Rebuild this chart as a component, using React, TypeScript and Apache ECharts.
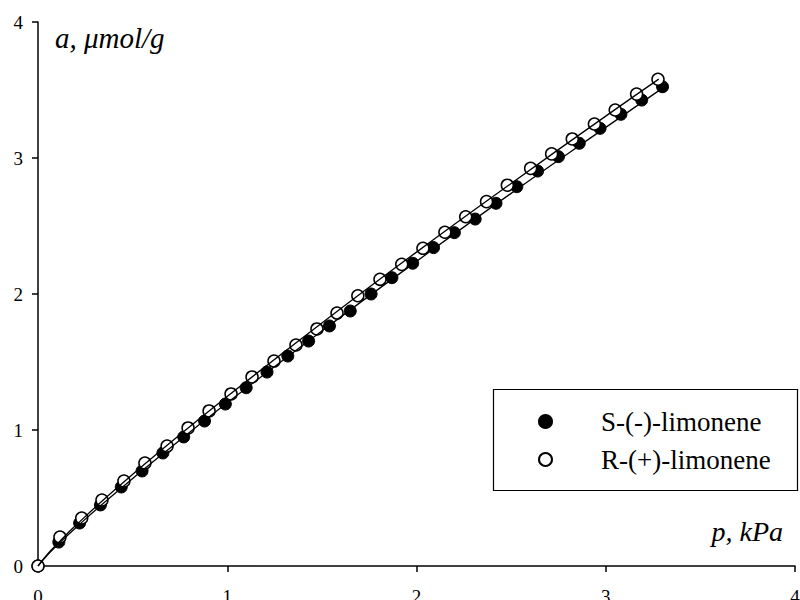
import React, { useEffect, useRef } from "react";
import * as echarts from "echarts";

// S-(-)-limonene (filled)
const sP = [0, 0.11, 0.22, 0.33, 0.44, 0.55, 0.66, 0.77, 0.88, 0.99, 1.1, 1.21, 1.32, 1.43, 1.54, 1.65, 1.76, 1.87, 1.98, 2.09, 2.2, 2.31, 2.42, 2.53, 2.64, 2.75, 2.86, 2.97, 3.08, 3.19, 3.3];
const sA = [0, 0.176, 0.316, 0.449, 0.581, 0.699, 0.831, 0.949, 1.066, 1.191, 1.311, 1.426, 1.544, 1.654, 1.765, 1.875, 2.0, 2.12, 2.226, 2.341, 2.451, 2.551, 2.667, 2.789, 2.904, 3.01, 3.108, 3.218, 3.321, 3.426, 3.524];

// R-(+)-limonene (open)
const rP = [0, 0.116, 0.231, 0.338, 0.454, 0.565, 0.682, 0.793, 0.904, 1.02, 1.131, 1.247, 1.363, 1.474, 1.58, 1.69, 1.807, 1.922, 2.034, 2.15, 2.26, 2.37, 2.48, 2.603, 2.714, 2.823, 2.94, 3.05, 3.163, 3.276];
const rA = [0, 0.213, 0.353, 0.485, 0.625, 0.757, 0.882, 1.015, 1.14, 1.265, 1.39, 1.507, 1.625, 1.743, 1.86, 1.987, 2.108, 2.218, 2.336, 2.454, 2.568, 2.679, 2.8, 2.924, 3.03, 3.14, 3.25, 3.353, 3.47, 3.579];

// fitted curves
const sFitP = [0, 0.05, 0.1, 0.2, 0.4, 0.7, 1.0, 1.5, 2.0, 2.5, 3.0, 3.3];
const sFitA = [0, 0.081, 0.151, 0.282, 0.526, 0.87, 1.2, 1.728, 2.24, 2.74, 3.225, 3.514];
const rFitP = [0, 0.05, 0.1, 0.2, 0.4, 0.7, 1.0, 1.5, 2.0, 2.5, 3.0, 3.28];
const rFitA = [0, 0.087, 0.161, 0.299, 0.553, 0.908, 1.247, 1.787, 2.308, 2.813, 3.308, 3.58];

const seriesNames = ["S-(-)-limonene", "R-(+)-limonene"];
const xTitle = "p, kPa";
const yTitle = "a, \u03bcmol/g";

const zip = (a: number[], b: number[]) => a.map((v, i) => [v, b[i]]);

const FONT = "'Liberation Serif', 'Times New Roman', Times, serif";

export default function App() {
  const ref = useRef<HTMLDivElement>(null);
  useEffect(() => {
    if (!ref.current) return;
    const chart = echarts.init(ref.current, null, { renderer: "svg" });
    const axisCommon = {
      type: "value" as const,
      min: 0,
      max: 4,
      interval: 1,
      splitLine: { show: false },
      axisLine: { show: true, lineStyle: { color: "#000", width: 1.5 } },
      axisTick: { show: true, inside: false, length: 6, lineStyle: { color: "#000", width: 1.5 } },
    };
    chart.setOption({
      animation: false,
      backgroundColor: "#fff",
      grid: { left: 38, right: 5, top: 22, bottom: 34, containLabel: false, outerBoundsMode: "none" },
      xAxis: {
        ...axisCommon,
        axisLabel: { color: "#000", fontFamily: FONT, fontSize: 19, margin: 21 },
      },
      yAxis: {
        ...axisCommon,
        axisLabel: { color: "#000", fontFamily: FONT, fontSize: 19, margin: 15 },
      },
      legend: {
        data: seriesNames,
        orient: "vertical",
        left: 538,
        top: 408,
        itemWidth: 13,
        itemHeight: 13,
        itemGap: 11,
        padding: 0,
        textStyle: { color: "#000", fontFamily: FONT, fontSize: 27, padding: [0, 0, 0, 44] },
      },
      graphic: [
        {
          type: "rect",
          shape: { x: 493.5, y: 389.5, width: 304, height: 101 },
          style: { fill: "none", stroke: "#000", lineWidth: 1.2 },
          z: 10,
        },
        {
          type: "text",
          x: 55,
          y: 38,
          style: {
            text: yTitle,
            fill: "#000",
            fontFamily: FONT,
            fontSize: 29,
            fontStyle: "italic",
            verticalAlign: "middle",
          },
        },
        {
          type: "text",
          x: 783,
          y: 531,
          style: {
            text: xTitle,
            fill: "#000",
            fontFamily: FONT,
            fontSize: 28,
            fontStyle: "italic",
            align: "right",
            verticalAlign: "middle",
          },
        },
      ],
      series: [
        {
          name: seriesNames[0],
          type: "scatter",
          data: zip(sP, sA),
          symbol: "circle",
          symbolSize: 12,
          itemStyle: { color: "#000", borderColor: "#000", borderWidth: 1, opacity: 1 },
          z: 2,
        },
        {
          name: seriesNames[1],
          type: "scatter",
          data: zip(rP, rA),
          symbol: "circle",
          symbolSize: 12,
          itemStyle: { color: "#fff", borderColor: "#000", borderWidth: 1.5, opacity: 1 },
          z: 3,
        },
        {
          name: "S fit",
          type: "line",
          data: zip(sFitP, sFitA),
          smooth: true,
          showSymbol: false,
          symbol: "none",
          lineStyle: { color: "#000", width: 1.3 },
          z: 4,
        },
        {
          name: "R fit",
          type: "line",
          data: zip(rFitP, rFitA),
          smooth: true,
          showSymbol: false,
          symbol: "none",
          lineStyle: { color: "#000", width: 1.3 },
          z: 4,
        },
      ],
    });
    return () => chart.dispose();
  }, []);
  return <div ref={ref} style={{ width: 800, height: 600, position: "absolute", left: 0, top: 0 }} />;
}
